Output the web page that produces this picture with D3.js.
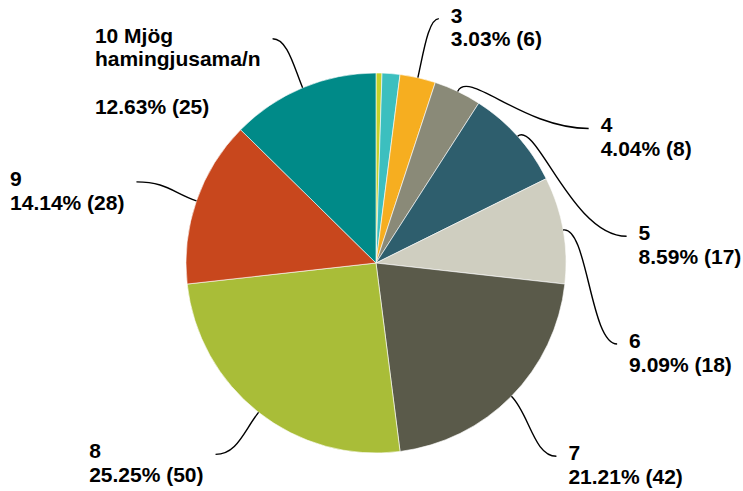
<!DOCTYPE html>
<html>
<head>
<meta charset="utf-8">
<script src="https://cdn.jsdelivr.net/npm/d3@7"></script>
<style>
  body { margin: 0; background: #fff; }
  svg { display: block; font-family: "Liberation Sans", Arial, sans-serif; }
</style>
</head>
<body>
<svg></svg>
<script>
var width = 743, height = 491;

// data
var categories = ["1", "2", "3", "4", "5", "6", "7", "8", "9", "10 Mjög\nhamingjusama/n\n"];
var counts = [1, 3, 6, 8, 17, 18, 42, 50, 28, 25];
var colors = ["#c6d12b", "#3cbfbf", "#f6ae20", "#8a8a78", "#2e5e6d",
              "#cfcec0", "#5a5a4a", "#a9bd38", "#c8471d", "#008a88"];

// layout: where each leader line ends, relative to the slice edge (null = no label)
var leaderEnd = [null, null, [21, -59], [131, 37], [109, 100], [54, 114],
                 [45, 60], [-43, 42], [-60, -19], [-30, -49]];

var cx = 376, cy = 263, radius = 190,
    fontSize = 21, lineH = 23.7, gap = 12;

var total = d3.sum(counts);

var svg = d3.select("svg").attr("width", width).attr("height", height),
    g = svg.append("g").attr("transform", "translate(" + cx + "," + cy + ")");

var pie = d3.pie().sort(null).value(function(d) { return d; });
var arc = d3.arc().innerRadius(0).outerRadius(radius);
var arcs = pie(counts);

g.selectAll("path.slice")
    .data(arcs)
  .enter().append("path")
    .attr("class", "slice")
    .attr("d", arc)
    .style("fill", function(d, i) { return colors[i]; })
    .style("stroke", "#fff")
    .style("stroke-width", 0.6);

arcs.forEach(function(d, i) {
  if (!leaderEnd[i]) return;
  var mid = (d.startAngle + d.endAngle) / 2;
  var ux = Math.sin(mid), uy = -Math.cos(mid);
  var sx = ux * radius, sy = uy * radius;
  var ex = sx + leaderEnd[i][0], ey = sy + leaderEnd[i][1];
  var dir = ex > sx ? 1 : -1;
  var dist = Math.sqrt(leaderEnd[i][0] * leaderEnd[i][0] + leaderEnd[i][1] * leaderEnd[i][1]);
  var k1 = Math.min(0.4 * dist, 25), k2 = 0.5 * Math.abs(ex - sx);

  var p = d3.path();
  p.moveTo(sx, sy);
  p.bezierCurveTo(sx + ux * k1, sy + uy * k1, ex - dir * k2, ey, ex, ey);
  g.append("path")
      .attr("d", p.toString())
      .style("fill", "none")
      .style("stroke", "#000")
      .style("stroke-width", 1.4);

  var lines = categories[i].split("\n");
  lines.push((counts[i] / total * 100).toFixed(2) + "% (" + counts[i] + ")");

  var text = g.append("text")
      .style("font-size", fontSize + "px")
      .style("font-weight", "bold")
      .style("fill", "#000");
  lines.forEach(function(l, j) {
    text.append("tspan")
        .attr("dy", j === 0 ? 0 : lineH)
        .text(l === "" ? "\u00a0" : l);
  });

  var w = d3.max(text.selectAll("tspan").nodes(), function(n) { return n.getComputedTextLength(); });
  var tx = dir > 0 ? ex + gap : ex - gap - w;
  text.attr("transform", "translate(" + tx + "," + (ey + 4) + ")");
  text.selectAll("tspan").attr("x", 0);
});
</script>
</body>
</html>
